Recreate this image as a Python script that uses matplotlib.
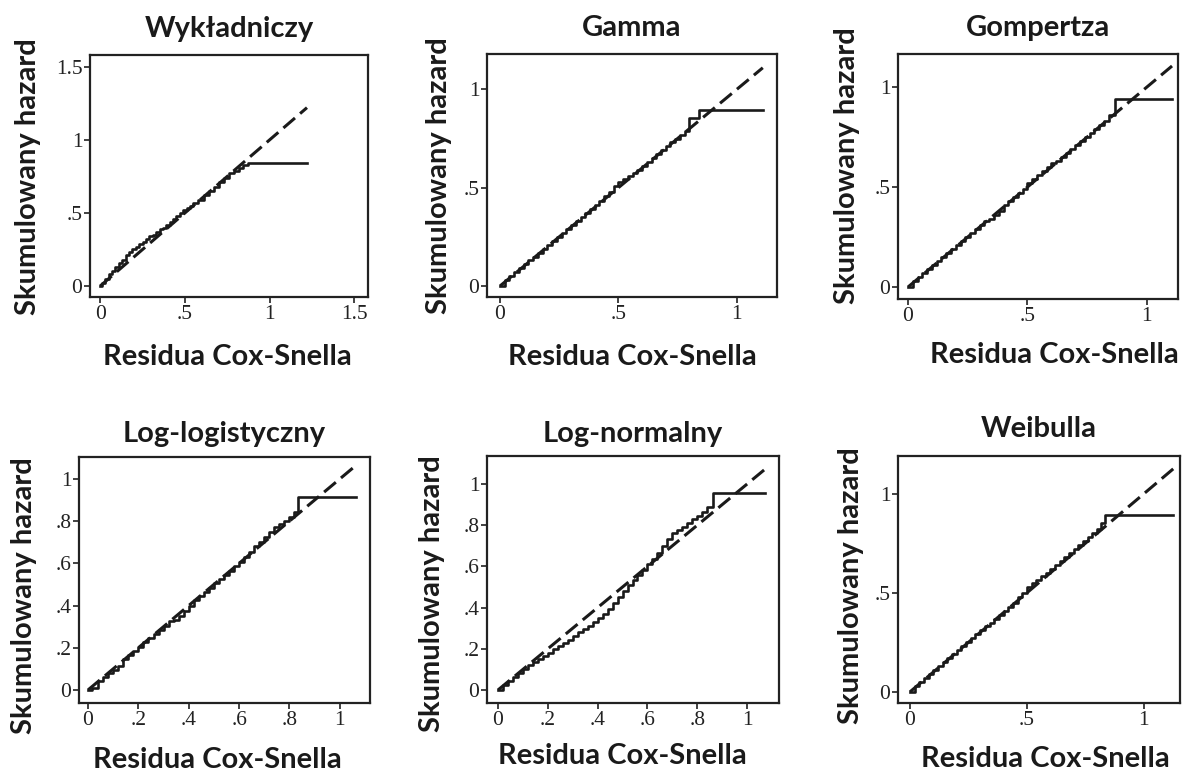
import matplotlib
matplotlib.use("Agg")
import matplotlib.pyplot as plt

# Cumulative hazard of Cox-Snell residuals for six parametric survival models
titles = ["Wykładniczy", "Gamma", "Gompertza",
          "Log-logistyczny", "Log-normalny", "Weibulla"]

# event residuals and Nelson-Aalen cumulative hazard for each model
resid_exp = [0.01, 0.03, 0.05, 0.07, 0.09, 0.11, 0.13, 0.15, 0.17, 0.19, 0.21, 0.23, 0.25,
             0.27, 0.29, 0.31, 0.33, 0.35, 0.37, 0.39, 0.41, 0.43, 0.45, 0.47, 0.49, 0.51,
             0.53, 0.55, 0.58, 0.61, 0.64, 0.67, 0.70, 0.73, 0.76, 0.79, 0.82, 0.84, 0.87]
haz_exp = [0.02, 0.05, 0.08, 0.10, 0.13, 0.16, 0.18, 0.21, 0.23, 0.25, 0.27, 0.29, 0.30,
           0.32, 0.34, 0.35, 0.37, 0.39, 0.40, 0.42, 0.44, 0.46, 0.48, 0.50, 0.52, 0.535,
           0.55, 0.565, 0.59, 0.62, 0.65, 0.68, 0.71, 0.74, 0.77, 0.79, 0.81, 0.825, 0.84]

resid_gam = [0.02, 0.04, 0.06, 0.08, 0.10, 0.12, 0.14, 0.16, 0.18, 0.20, 0.22, 0.24, 0.26,
             0.28, 0.30, 0.32, 0.34, 0.36, 0.38, 0.40, 0.42, 0.44, 0.46, 0.48, 0.50, 0.52,
             0.54, 0.56, 0.58, 0.60, 0.62, 0.64, 0.66, 0.68, 0.70, 0.72, 0.74, 0.76, 0.78,
             0.80, 0.84]
haz_gam = [0.03, 0.05, 0.07, 0.09, 0.11, 0.13, 0.15, 0.17, 0.19, 0.21, 0.23, 0.25, 0.27,
           0.29, 0.31, 0.33, 0.35, 0.37, 0.39, 0.41, 0.43, 0.46, 0.48, 0.51, 0.53, 0.545,
           0.56, 0.575, 0.59, 0.61, 0.63, 0.65, 0.67, 0.69, 0.71, 0.73, 0.75, 0.77, 0.79,
           0.855, 0.895]

resid_gom = [0.02, 0.04, 0.06, 0.08, 0.10, 0.12, 0.14, 0.16, 0.18, 0.20, 0.22, 0.24, 0.26,
             0.28, 0.30, 0.32, 0.34, 0.36, 0.38, 0.40, 0.42, 0.44, 0.46, 0.48, 0.50, 0.52,
             0.54, 0.56, 0.58, 0.60, 0.62, 0.64, 0.66, 0.68, 0.70, 0.72, 0.74, 0.76, 0.78,
             0.80, 0.82, 0.84, 0.866]
haz_gom = [0.03, 0.05, 0.07, 0.09, 0.11, 0.13, 0.15, 0.17, 0.19, 0.21, 0.23, 0.25, 0.27,
           0.29, 0.31, 0.33, 0.34, 0.36, 0.38, 0.41, 0.43, 0.45, 0.47, 0.49, 0.52, 0.54,
           0.56, 0.58, 0.60, 0.62, 0.63, 0.65, 0.67, 0.69, 0.71, 0.73, 0.75, 0.77, 0.79,
           0.81, 0.83, 0.86, 0.94]

resid_llog = [0.015, 0.04, 0.06, 0.08, 0.10, 0.12, 0.14, 0.16, 0.18, 0.20, 0.22, 0.24, 0.26,
              0.28, 0.30, 0.32, 0.34, 0.36, 0.38, 0.40, 0.42, 0.44, 0.46, 0.48, 0.50, 0.52,
              0.54, 0.56, 0.58, 0.60, 0.62, 0.64, 0.66, 0.68, 0.70, 0.72, 0.74, 0.76, 0.78,
              0.80, 0.82, 0.835]
haz_llog = [0.01, 0.04, 0.06, 0.08, 0.095, 0.115, 0.145, 0.165, 0.185, 0.205, 0.225, 0.245, 0.265,
            0.285, 0.305, 0.325, 0.33, 0.35, 0.375, 0.40, 0.425, 0.445, 0.465, 0.485, 0.505, 0.525,
            0.545, 0.565, 0.585, 0.605, 0.63, 0.655, 0.68, 0.70, 0.725, 0.75, 0.77, 0.785, 0.80,
            0.82, 0.845, 0.916]

resid_lnorm = [0.02, 0.04, 0.06, 0.08, 0.10, 0.12, 0.14, 0.16, 0.18, 0.20, 0.22, 0.24, 0.26,
               0.28, 0.30, 0.32, 0.34, 0.36, 0.38, 0.40, 0.42, 0.44, 0.46, 0.48, 0.50, 0.52,
               0.54, 0.56, 0.58, 0.60, 0.62, 0.64, 0.66, 0.68, 0.70, 0.72, 0.74, 0.76, 0.78,
               0.80, 0.82, 0.84, 0.865]
haz_lnorm = [0.025, 0.045, 0.065, 0.085, 0.10, 0.12, 0.135, 0.15, 0.165, 0.18, 0.20, 0.215, 0.23,
             0.245, 0.26, 0.28, 0.295, 0.31, 0.33, 0.35, 0.37, 0.395, 0.42, 0.45, 0.48, 0.51,
             0.535, 0.56, 0.585, 0.61, 0.635, 0.665, 0.70, 0.735, 0.76, 0.775, 0.79, 0.81, 0.83,
             0.845, 0.865, 0.89, 0.955]

resid_wei = [0.02, 0.04, 0.06, 0.08, 0.10, 0.12, 0.14, 0.16, 0.18, 0.20, 0.22, 0.24, 0.26,
             0.28, 0.30, 0.32, 0.34, 0.36, 0.38, 0.40, 0.42, 0.44, 0.46, 0.48, 0.50, 0.52,
             0.54, 0.56, 0.58, 0.60, 0.62, 0.64, 0.66, 0.68, 0.70, 0.72, 0.74, 0.76, 0.78,
             0.80, 0.815, 0.833]
haz_wei = [0.03, 0.05, 0.07, 0.09, 0.11, 0.13, 0.15, 0.17, 0.19, 0.21, 0.23, 0.25, 0.27,
           0.29, 0.31, 0.33, 0.35, 0.37, 0.39, 0.41, 0.43, 0.45, 0.48, 0.50, 0.53, 0.55,
           0.565, 0.585, 0.60, 0.62, 0.64, 0.66, 0.68, 0.70, 0.72, 0.74, 0.76, 0.78, 0.80,
           0.82, 0.85, 0.894]

# largest residual (censored) per model
max_resid = [1.22, 1.11, 1.105, 1.066, 1.07, 1.125]

residuals = [resid_exp, resid_gam, resid_gom, resid_llog, resid_lnorm, resid_wei]
hazards = [haz_exp, haz_gam, haz_gom, haz_llog, haz_lnorm, haz_wei]

# tick values and labels
ticks_a = [0, 0.5, 1, 1.5]
labels_a = ["0", ".5", "1", "1.5"]
ticks_b = [0, 0.5, 1]
labels_b = ["0", ".5", "1"]
ticks_c = [0, 0.2, 0.4, 0.6, 0.8, 1]
labels_c = ["0", ".2", ".4", ".6", ".8", "1"]
tick_sets = [(ticks_a, labels_a), (ticks_b, labels_b), (ticks_b, labels_b),
             (ticks_c, labels_c), (ticks_c, labels_c), (ticks_b, labels_b)]

# layout of each panel in pixels: left, top, right, bottom
W, H = 1191, 773
boxes_px = [(90, 55, 368, 297), (487, 54, 777, 297), (898, 54, 1178, 299),
            (79, 457, 370, 703), (487, 456, 779, 703), (898, 456, 1180, 703)]
xlims = [(-0.06, 1.58), (-0.055, 1.17), (-0.042, 1.13),
         (-0.036, 1.12), (-0.044, 1.128), (-0.051, 1.154)]
ylims = [(-0.075, 1.58), (-0.056, 1.18), (-0.06, 1.165),
         (-0.062, 1.104), (-0.063, 1.136), (-0.056, 1.19)]
ylabel_pos = [(-0.223, 0.496), (-0.166, 0.498), (-0.182, 0.543),
              (-0.189, 0.435), (-0.188, 0.441), (-0.167, 0.474)]
xlabel_pos = [(0.493, -0.248), (0.50, -0.247), (0.56, -0.229),
              (0.474, -0.232), (0.462, -0.215), (0.521, -0.226)]
title_pad = [13, 13, 13, 11, 10, 14]

label_font = dict(family="Lato", weight="bold", size=21, color="#1a1a1a")
tick_font = "Liberation Serif"
ink = "#1a1a1a"

fig = plt.figure(figsize=(W / 100, H / 100), dpi=100)
fig.patch.set_facecolor("white")

for i in range(6):
    l, t, r, b = boxes_px[i]
    ax = fig.add_axes([l / W, 1 - b / H, (r - l) / W, (b - t) / H])
    xs = [0] + residuals[i] + [max_resid[i]]
    ys = [0] + hazards[i] + [hazards[i][-1]]
    ax.plot(xs, ys, drawstyle="steps-post", color=ink, lw=1.9)
    ax.plot([0, max_resid[i]], [0, max_resid[i]], color=ink, lw=2.2,
            linestyle=(0, (5, 2.2)))
    ax.set_xlim(*xlims[i])
    ax.set_ylim(*ylims[i])
    tv, tl = tick_sets[i]
    ax.set_xticks(tv)
    ax.set_xticklabels(tl, fontfamily=tick_font, fontsize=15.5, color="#222222")
    ax.set_yticks(tv)
    ax.set_yticklabels(tl, fontfamily=tick_font, fontsize=15.5, color="#222222")
    ax.tick_params(direction="out", length=4, width=1.3, pad=1.5, color="#333333",
                   top=False, right=False)
    for sp in ax.spines.values():
        sp.set_linewidth(1.6)
        sp.set_color("#222222")
    ax.set_title(titles[i], pad=title_pad[i], **label_font)
    ax.set_ylabel("Skumulowany hazard", va="center", **label_font)
    ax.yaxis.set_label_coords(*ylabel_pos[i])
    ax.set_xlabel("Residua Cox-Snella", va="center", **label_font)
    ax.xaxis.set_label_coords(*xlabel_pos[i])

fig.savefig("out.png", dpi=100, facecolor="white")
